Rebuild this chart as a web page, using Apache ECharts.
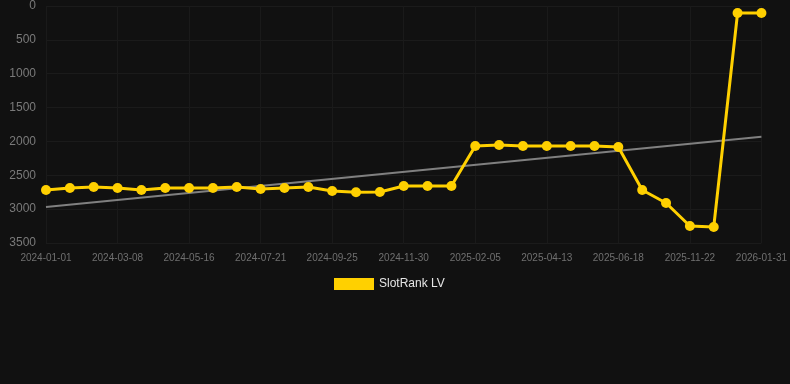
<!DOCTYPE html>
<html>
<head>
<meta charset="utf-8">
<script src="https://cdn.jsdelivr.net/npm/echarts@6/dist/echarts.min.js"></script>
<style>
  html, body { margin: 0; padding: 0; background: #111111; }
  #chart { width: 790px; height: 384px; }
</style>
</head>
<body>
<div id="chart"></div>
<script>
// dates on the x axis (one per point)
var dates = [
  '2024-01-01', '2024-01-23', '2024-02-14', '2024-03-08', '2024-03-31', '2024-04-23',
  '2024-05-16', '2024-06-07', '2024-06-29', '2024-07-21', '2024-08-12', '2024-09-03',
  '2024-09-25', '2024-10-17', '2024-11-08', '2024-11-30', '2024-12-22', '2025-01-14',
  '2025-02-05', '2025-02-27', '2025-03-22', '2025-04-13', '2025-05-05', '2025-05-27',
  '2025-06-18', '2025-08-02', '2025-09-17', '2025-11-22', '2025-12-15', '2026-01-08',
  '2026-01-31'
];

// rank values (lower is better, axis inverted)
var rankLV = [
  2717, 2688, 2673, 2688, 2717, 2688, 2688, 2688, 2673, 2703, 2688, 2673,
  2732, 2750, 2747, 2658, 2658, 2658, 2067, 2053, 2067, 2067, 2067, 2067,
  2082, 2717, 2909, 3249, 3264, 103, 103
];

// trend line end points
var trendStart = 2968;
var trendEnd = 1932;

var yTicks = [0, 500, 1000, 1500, 2000, 2500, 3000, 3500];

var myChart = echarts.init(document.getElementById('chart'));

var option = {
  backgroundColor: '#111111',
  animation: false,
  grid: { left: 46, right: 28, top: 6, bottom: 141, containLabel: false },
  legend: {
    data: ['SlotRank LV'],
    top: 273,
    left: 329,
    itemWidth: 40,
    itemHeight: 12,
    itemGap: 10,
    textStyle: { color: '#e6e6e6', fontSize: 12, fontFamily: 'Arial, Liberation Sans, sans-serif' },
    icon: 'rect'
  },
  xAxis: {
    type: 'category',
    data: dates,
    boundaryGap: false,
    axisLine: { show: false },
    axisTick: { show: false },
    axisLabel: {
      interval: 2,
      color: '#707070',
      fontSize: 10,
      margin: 10,
      fontFamily: 'Arial, Liberation Sans, sans-serif'
    },
    splitLine: { show: true, interval: 2, lineStyle: { color: '#1a1a1a', width: 1 } }
  },
  yAxis: {
    type: 'value',
    inverse: true,
    min: 0,
    max: 3500,
    interval: 500,
    axisLine: { show: false },
    axisTick: { show: false },
    axisLabel: {
      color: '#7a7a7a',
      fontSize: 12,
      margin: 10,
      fontFamily: 'Arial, Liberation Sans, sans-serif',
      formatter: function (v) { return yTicks.indexOf(v) >= 0 ? String(v) : ''; }
    },
    splitLine: { lineStyle: { color: '#1b1b1b', width: 1 } }
  },
  series: [
    {
      name: 'SlotRank LV',
      type: 'line',
      data: rankLV,
      symbol: 'circle',
      symbolSize: 10,
      lineStyle: { color: '#ffd000', width: 3 },
      itemStyle: { color: '#ffd000' },
      z: 3
    },
    {
      name: 'trend',
      type: 'line',
      data: [[dates[0], trendStart], [dates[dates.length - 1], trendEnd]],
      symbol: 'none',
      lineStyle: { color: '#808080', width: 2 },
      itemStyle: { color: '#808080' },
      silent: true,
      z: 2
    }
  ]
};

myChart.setOption(option);
</script>
</body>
</html>
